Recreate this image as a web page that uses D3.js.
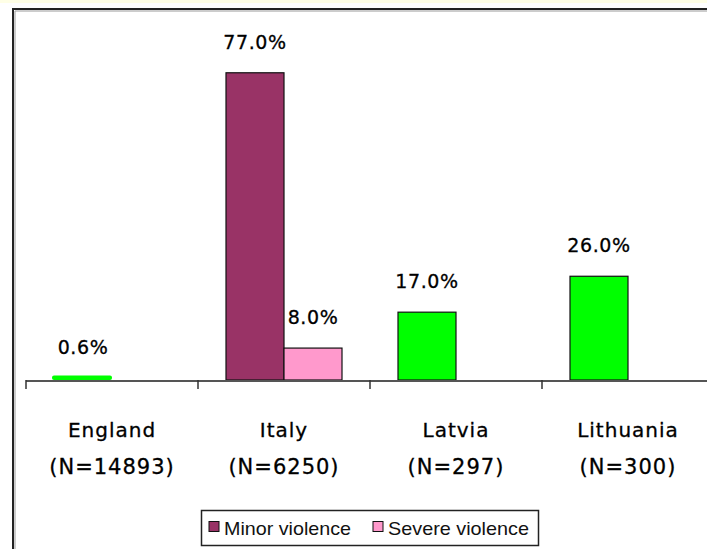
<!DOCTYPE html>
<html><head><meta charset="utf-8">
<script src="https://cdn.jsdelivr.net/npm/d3@7"></script>
<style>body{margin:0;background:#fff}svg{display:block}</style>
</head><body>
<svg id="c" width="707" height="549"></svg>
<script>
const categories = ["England", "Italy", "Latvia", "Lithuania"];
const sampleSizes = ["(N=14893)", "(N=6250)", "(N=297)", "(N=300)"];
const minorViolence = [0.6, 77.0, 17.0, 26.0];
const severeViolence = [null, 8.0, null, null];
const seriesNames = ["Minor violence", "Severe violence"];
const seriesColors = ["#993366", "#ff99cc"];
const pointColors = ["#00ff00", "#993366", "#00ff00", "#00ff00"];

const svg = d3.select("#c");
const W = 707, H = 549;
const baseY = 380, axisLeft = 26, catW = 172;

svg.append("rect").attr("x",0).attr("y",0).attr("width",W).attr("height",3).attr("fill","#ffffe6");
svg.append("path").attr("d",`M13,${H+5}V9H${W+5}`).attr("fill","none").attr("stroke","#222").attr("stroke-width",2);
svg.append("path").attr("d",`M15,${H+5}V11H${W+5}`).attr("fill","none").attr("stroke","#999").attr("stroke-width",1);

const x0 = d3.scaleBand().domain(categories).range([axisLeft, axisLeft + catW*4]).paddingInner(0).paddingOuter(0);
const x1 = d3.scaleBand().domain(seriesNames).range([28, 144]);
const y = d3.scaleLinear().domain([0, 100]).range([baseY, baseY - 399]);

const data = categories.map((c,i)=>({cat:c, vals:[
  {s:seriesNames[0], v:minorViolence[i], color:pointColors[i]},
  {s:seriesNames[1], v:severeViolence[i], color:seriesColors[1]}
].filter(d=>d.v!=null)}));

const g = svg.append("g");
data.forEach(d=>{
  d.vals.forEach(p=>{
    const bx = x0(d.cat) + x1(p.s);
    if (p.v < 1) {
      g.append("rect").attr("x",bx-2).attr("y",y(p.v)-2).attr("width",x1.bandwidth()+2).attr("height",y(0)-y(p.v)+2)
        .attr("rx",2).attr("fill",p.color);
    } else {
      g.append("rect").attr("x",bx).attr("y",y(p.v)).attr("width",x1.bandwidth()).attr("height",y(0)-y(p.v))
        .attr("fill",p.color).attr("stroke","#111").attr("stroke-width",1.2);
    }
    g.append("text").attr("x",bx + x1.bandwidth()/2).attr("y",y(p.v)-24)
      .attr("text-anchor","middle").attr("font-family","DejaVu Sans, sans-serif").attr("font-size",19)
      .attr("letter-spacing",0.6).attr("fill","#000").attr("stroke","#000").attr("stroke-width",0.3)
      .text(p.v.toFixed(1)+"%");
  });
});

const ax = svg.append("g");
ax.append("line").attr("x1",axisLeft).attr("x2",W).attr("y1",baseY+1).attr("y2",baseY+1).attr("stroke","#555").attr("stroke-width",2);
categories.forEach(c=>{
  ax.append("line").attr("x1",x0(c)).attr("x2",x0(c)).attr("y1",baseY).attr("y2",baseY+9).attr("stroke","#333").attr("stroke-width",1.5);
});
categories.forEach((c,i)=>{
  const cx = x0(c) + x0.bandwidth()/2;
  ax.append("text").attr("x",cx).attr("y",437).attr("text-anchor","middle")
    .attr("font-family","DejaVu Sans, sans-serif").attr("font-size",20).attr("letter-spacing",1)
    .attr("fill","#000").attr("stroke","#000").attr("stroke-width",0.3).text(c);
  ax.append("text").attr("x",cx).attr("y",474).attr("text-anchor","middle")
    .attr("font-family","DejaVu Sans, sans-serif").attr("font-size",21).attr("letter-spacing",1)
    .attr("fill","#000").attr("stroke","#000").attr("stroke-width",0.3).text(sampleSizes[i]);
});

const lg = svg.append("g");
lg.append("rect").attr("x",201.5).attr("y",510.5).attr("width",337).attr("height",35).attr("fill","#fff").attr("stroke","#222").attr("stroke-width",1.5);
const lx = [209, 373];
seriesNames.forEach((s,i)=>{
  lg.append("rect").attr("x",lx[i]).attr("y",521.5).attr("width",10).attr("height",10).attr("fill",seriesColors[i]).attr("stroke","#111");
  lg.append("text").attr("x",lx[i]+15).attr("y",535).attr("font-family","Liberation Sans, sans-serif")
    .attr("font-size",19).attr("textLength", i===0 ? 127 : 141).attr("lengthAdjust","spacingAndGlyphs")
    .attr("fill","#111").text(s);
});
</script>
</body></html>
